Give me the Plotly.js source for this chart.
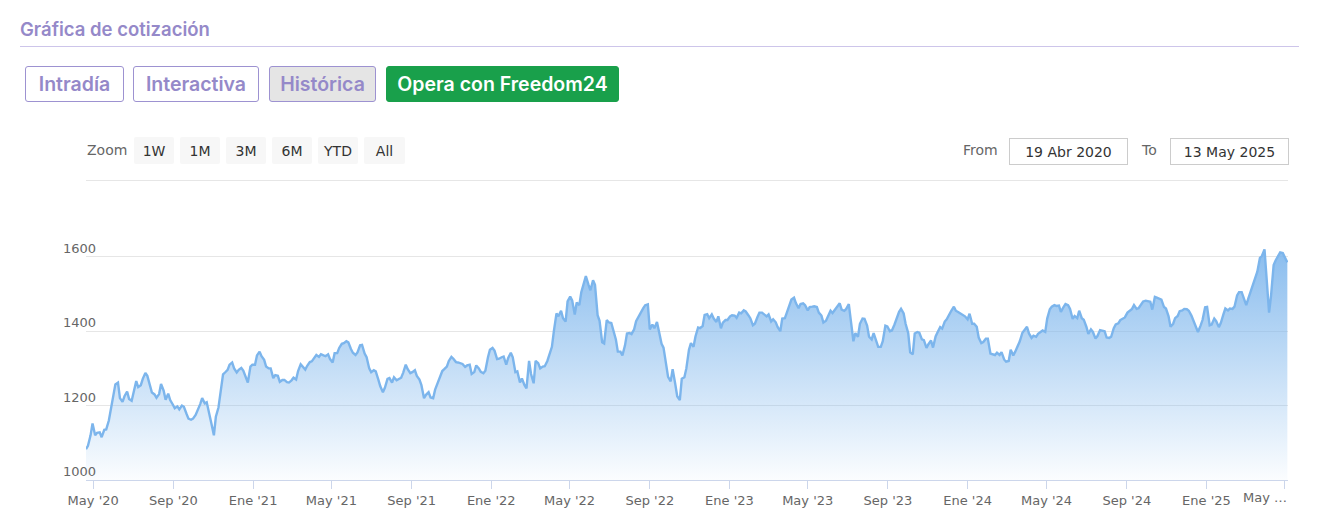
<!DOCTYPE html>
<html>
<head>
<meta charset="utf-8">
<script src="https://cdn.plot.ly/plotly-3.0.1.min.js"></script>
<style>
html,body{margin:0;padding:0;background:#fff;width:1322px;height:532px;overflow:hidden;}
#chart{position:absolute;left:0;top:0;width:1322px;height:532px;}
.ov{position:absolute;box-sizing:border-box;white-space:nowrap;}
.title{left:20px;top:18px;font-family:Inter,"Noto Sans",sans-serif;font-weight:600;font-size:18.5px;color:#9589c9;}
.sep{left:20px;top:46px;width:1279px;height:1px;background:#cdc5ea;}
.tab{top:66px;height:36px;font-family:Inter,"Noto Sans",sans-serif;font-weight:600;font-size:19.5px;color:#9589c9;border:1px solid #9d92d1;border-radius:3px;display:flex;align-items:center;justify-content:center;background:#fff;}
.rs{font-family:"DejaVu Sans",sans-serif;font-size:14px;}
.lbl{color:#666;top:142px;}
.zb{top:137px;height:27px;width:40px;background:#f7f7f7;color:#333;display:flex;align-items:center;justify-content:center;border-radius:2px;padding-top:1px;}
.inp{top:138px;height:27px;width:119px;border:1px solid #cccccc;color:#333;display:flex;align-items:center;justify-content:center;background:#fff;}
.sep2{left:86px;top:180px;width:1202px;height:1px;background:#e6e6e6;}
</style>
</head>
<body>
<div id="chart"></div>

<div class="ov title">Gráfica de cotización</div>
<div class="ov sep"></div>
<div class="ov tab" style="left:25px;width:99px;">Intradía</div>
<div class="ov tab" style="left:133px;width:126px;">Interactiva</div>
<div class="ov tab" style="left:269px;width:107px;background:#e5e5e5;">Histórica</div>
<div class="ov tab" style="left:386px;width:233px;background:#19a04b;border-color:#19a04b;color:#fff;">Opera con Freedom24</div>

<div class="ov rs lbl" style="left:87px;">Zoom</div>
<div class="ov rs zb" style="left:134px;">1W</div>
<div class="ov rs zb" style="left:180px;">1M</div>
<div class="ov rs zb" style="left:226px;">3M</div>
<div class="ov rs zb" style="left:272px;">6M</div>
<div class="ov rs zb" style="left:318px;">YTD</div>
<div class="ov rs zb" style="left:364px;width:41px;">All</div>
<div class="ov rs lbl" style="left:963px;">From</div>
<div class="ov rs inp" style="left:1009px;">19 Abr 2020</div>
<div class="ov rs lbl" style="left:1142px;">To</div>
<div class="ov rs inp" style="left:1170px;">13 May 2025</div>
<div class="ov sep2"></div>

<script>
// ---- data: Monday and Thursday closes ----
const mon2020 = ['2020-04-20','2020-04-27','2020-05-04','2020-05-11','2020-05-18','2020-05-25','2020-06-01','2020-06-08','2020-06-15','2020-06-22','2020-06-29','2020-07-06','2020-07-13','2020-07-20','2020-07-27','2020-08-03','2020-08-10','2020-08-17','2020-08-24','2020-08-31','2020-09-07','2020-09-14','2020-09-21','2020-09-28','2020-10-05','2020-10-12','2020-10-19','2020-10-26','2020-11-02','2020-11-09','2020-11-16','2020-11-23','2020-11-30','2020-12-07','2020-12-14','2020-12-21','2020-12-28'];
const monPrices2020 = [1083,1120,1120,1128,1135,1160,1225,1262,1210,1238,1213,1266,1255,1288,1252,1230,1231,1240,1232,1203,1198,1200,1178,1162,1175,1204,1206,1180,1120,1195,1284,1296,1316,1289,1301,1275,1305];
const thu2020 = ['2020-04-23','2020-04-30','2020-05-07','2020-05-14','2020-05-21','2020-05-28','2020-06-04','2020-06-11','2020-06-18','2020-06-25','2020-07-02','2020-07-09','2020-07-16','2020-07-23','2020-07-30','2020-08-06','2020-08-13','2020-08-20','2020-08-27','2020-09-03','2020-09-10','2020-09-17','2020-09-24','2020-10-01','2020-10-08','2020-10-15','2020-10-22','2020-10-29','2020-11-05','2020-11-12','2020-11-19','2020-11-26','2020-12-03','2020-12-10','2020-12-17','2020-12-24','2020-12-31'];
const thuPrices2020 = [1092,1152,1127,1115,1136,1188,1257,1220,1225,1218,1240,1250,1272,1280,1235,1221,1258,1216,1215,1193,1190,1197,1165,1165,1186,1220,1209,1153,1170,1240,1289,1310,1300,1296,1294,1262,1310];

const mon2021 = ['2021-01-04','2021-01-11','2021-01-18','2021-01-25','2021-02-01','2021-02-08','2021-02-15','2021-02-22','2021-03-01','2021-03-08','2021-03-15','2021-03-22','2021-03-29','2021-04-05','2021-04-12','2021-04-19','2021-04-26','2021-05-03','2021-05-10','2021-05-17','2021-05-24','2021-05-31','2021-06-07','2021-06-14','2021-06-21','2021-06-28','2021-07-05','2021-07-12','2021-07-19','2021-07-26','2021-08-02','2021-08-09','2021-08-16','2021-08-23','2021-08-30','2021-09-06','2021-09-13','2021-09-20','2021-09-27','2021-10-04','2021-10-11','2021-10-18','2021-10-25','2021-11-01','2021-11-08','2021-11-15','2021-11-22','2021-11-29','2021-12-06','2021-12-13','2021-12-20','2021-12-27'];
const monPrices2021 = [1310,1345,1323,1300,1274,1280,1269,1263,1268,1270,1311,1297,1317,1328,1331,1335,1338,1316,1341,1366,1373,1352,1336,1362,1340,1300,1295,1270,1236,1272,1262,1268,1275,1310,1287,1295,1270,1220,1236,1220,1261,1293,1305,1331,1317,1314,1304,1310,1290,1300,1287,1330];
const thu2021 = ['2021-01-07','2021-01-14','2021-01-21','2021-01-28','2021-02-04','2021-02-11','2021-02-18','2021-02-25','2021-03-04','2021-03-11','2021-03-18','2021-03-25','2021-04-01','2021-04-08','2021-04-15','2021-04-22','2021-04-29','2021-05-06','2021-05-13','2021-05-20','2021-05-27','2021-06-03','2021-06-10','2021-06-17','2021-06-24','2021-07-01','2021-07-08','2021-07-15','2021-07-22','2021-07-29','2021-08-05','2021-08-12','2021-08-19','2021-08-26','2021-09-02','2021-09-09','2021-09-16','2021-09-23','2021-09-30','2021-10-07','2021-10-14','2021-10-21','2021-10-28','2021-11-04','2021-11-11','2021-11-18','2021-11-25','2021-12-02','2021-12-09','2021-12-16','2021-12-23','2021-12-30'];
const thuPrices2021 = [1335,1333,1305,1300,1282,1264,1269,1262,1275,1293,1305,1307,1319,1336,1338,1333,1325,1341,1355,1368,1370,1342,1343,1363,1330,1290,1292,1252,1248,1274,1276,1271,1288,1298,1290,1280,1255,1229,1222,1243,1275,1298,1320,1326,1316,1312,1308,1285,1308,1291,1294,1350];

const mon2022 = ['2022-01-03','2022-01-10','2022-01-17','2022-01-24','2022-01-31','2022-02-07','2022-02-14','2022-02-21','2022-02-28','2022-03-07','2022-03-14','2022-03-21','2022-03-28','2022-04-04','2022-04-11','2022-04-18','2022-04-25','2022-05-02','2022-05-09','2022-05-16','2022-05-23','2022-05-30','2022-06-06','2022-06-13','2022-06-20','2022-06-27','2022-07-04','2022-07-11','2022-07-18','2022-07-25','2022-08-01','2022-08-08','2022-08-15','2022-08-22','2022-08-29','2022-09-05','2022-09-12','2022-09-19','2022-09-26','2022-10-03','2022-10-10','2022-10-17','2022-10-24','2022-10-31','2022-11-07','2022-11-14','2022-11-21','2022-11-28','2022-12-05','2022-12-12','2022-12-19','2022-12-26'];
const monPrices2022 = [1355,1325,1330,1310,1342,1290,1262,1255,1320,1260,1314,1305,1320,1358,1448,1455,1426,1493,1445,1470,1528,1525,1537,1443,1370,1430,1422,1378,1345,1362,1395,1405,1440,1462,1472,1418,1425,1366,1302,1265,1258,1215,1276,1350,1358,1410,1414,1446,1445,1425,1408,1430];
const thu2022 = ['2022-01-06','2022-01-13','2022-01-20','2022-01-27','2022-02-03','2022-02-10','2022-02-17','2022-02-24','2022-03-03','2022-03-10','2022-03-17','2022-03-24','2022-03-31','2022-04-07','2022-04-14','2022-04-21','2022-04-28','2022-05-05','2022-05-12','2022-05-19','2022-05-26','2022-06-02','2022-06-09','2022-06-16','2022-06-23','2022-06-30','2022-07-07','2022-07-14','2022-07-21','2022-07-28','2022-08-04','2022-08-11','2022-08-18','2022-08-25','2022-09-01','2022-09-08','2022-09-15','2022-09-22','2022-09-29','2022-10-06','2022-10-13','2022-10-20','2022-10-27','2022-11-03','2022-11-10','2022-11-17','2022-11-24','2022-12-01','2022-12-08','2022-12-15','2022-12-22','2022-12-29'];
const thuPrices2022 = [1348,1326,1332,1328,1330,1292,1273,1246,1285,1320,1300,1306,1338,1400,1440,1435,1480,1483,1477,1505,1548,1510,1525,1428,1367,1424,1400,1345,1335,1394,1392,1427,1453,1470,1405,1408,1400,1356,1277,1298,1225,1272,1300,1368,1386,1408,1444,1435,1434,1440,1423,1430];

const mon2023 = ['2023-01-02','2023-01-09','2023-01-16','2023-01-23','2023-01-30','2023-02-06','2023-02-13','2023-02-20','2023-02-27','2023-03-06','2023-03-13','2023-03-20','2023-03-27','2023-04-03','2023-04-10','2023-04-17','2023-04-24','2023-05-01','2023-05-08','2023-05-15','2023-05-22','2023-05-29','2023-06-05','2023-06-12','2023-06-19','2023-06-26','2023-07-03','2023-07-10','2023-07-17','2023-07-24','2023-07-31','2023-08-07','2023-08-14','2023-08-21','2023-08-28','2023-09-04','2023-09-11','2023-09-18','2023-09-25','2023-10-02','2023-10-09','2023-10-16','2023-10-23','2023-10-30','2023-11-06','2023-11-13','2023-11-20','2023-11-27','2023-12-04','2023-12-11','2023-12-18','2023-12-25'];
const monPrices2023 = [1440,1442,1450,1456,1443,1416,1438,1450,1440,1426,1424,1400,1435,1472,1490,1462,1475,1456,1466,1465,1442,1428,1455,1458,1475,1455,1473,1373,1385,1434,1415,1378,1374,1358,1415,1400,1418,1452,1448,1395,1338,1398,1378,1355,1375,1386,1411,1426,1448,1466,1451,1444];
const thu2023 = ['2023-01-05','2023-01-12','2023-01-19','2023-01-26','2023-02-02','2023-02-09','2023-02-16','2023-02-23','2023-03-02','2023-03-09','2023-03-16','2023-03-23','2023-03-30','2023-04-06','2023-04-13','2023-04-20','2023-04-27','2023-05-04','2023-05-11','2023-05-18','2023-05-25','2023-06-01','2023-06-08','2023-06-15','2023-06-22','2023-06-29','2023-07-06','2023-07-13','2023-07-20','2023-07-27','2023-08-03','2023-08-10','2023-08-17','2023-08-24','2023-08-31','2023-09-07','2023-09-14','2023-09-21','2023-09-28','2023-10-05','2023-10-12','2023-10-19','2023-10-26','2023-11-02','2023-11-09','2023-11-16','2023-11-23','2023-11-30','2023-12-07','2023-12-14','2023-12-21','2023-12-28'];
const thuPrices2023 = [1443,1436,1448,1453,1435,1420,1450,1445,1445,1432,1411,1434,1450,1485,1475,1473,1470,1465,1467,1450,1423,1438,1449,1466,1458,1460,1430,1395,1420,1433,1385,1395,1358,1373,1413,1402,1433,1460,1420,1343,1394,1396,1376,1365,1356,1397,1407,1432,1455,1455,1448,1440];

const mon2024 = ['2024-01-01','2024-01-08','2024-01-15','2024-01-22','2024-01-29','2024-02-05','2024-02-12','2024-02-19','2024-02-26','2024-03-04','2024-03-11','2024-03-18','2024-03-25','2024-04-01','2024-04-08','2024-04-15','2024-04-22','2024-04-29','2024-05-06','2024-05-13','2024-05-20','2024-05-27','2024-06-03','2024-06-10','2024-06-17','2024-06-24','2024-07-01','2024-07-08','2024-07-15','2024-07-22','2024-07-29','2024-08-05','2024-08-12','2024-08-19','2024-08-26','2024-09-02','2024-09-09','2024-09-16','2024-09-23','2024-09-30','2024-10-07','2024-10-14','2024-10-21','2024-10-28','2024-11-04','2024-11-11','2024-11-18','2024-11-25','2024-12-02','2024-12-09','2024-12-16','2024-12-23','2024-12-30'];
const monPrices2024 = [1432,1420,1412,1368,1380,1340,1336,1336,1324,1320,1335,1362,1396,1412,1382,1385,1398,1398,1459,1470,1469,1465,1470,1433,1435,1435,1412,1405,1380,1403,1400,1382,1408,1421,1435,1450,1460,1460,1473,1482,1479,1492,1486,1465,1440,1420,1441,1456,1459,1442,1412,1415,1464];
const thu2024 = ['2024-01-04','2024-01-11','2024-01-18','2024-01-25','2024-02-01','2024-02-08','2024-02-15','2024-02-22','2024-02-29','2024-03-07','2024-03-14','2024-03-21','2024-03-28','2024-04-04','2024-04-11','2024-04-18','2024-04-25','2024-05-02','2024-05-09','2024-05-16','2024-05-23','2024-05-30','2024-06-06','2024-06-13','2024-06-20','2024-06-27','2024-07-04','2024-07-11','2024-07-18','2024-07-25','2024-08-01','2024-08-08','2024-08-15','2024-08-22','2024-08-29','2024-09-05','2024-09-12','2024-09-19','2024-09-26','2024-10-03','2024-10-10','2024-10-17','2024-10-24','2024-10-31','2024-11-07','2024-11-14','2024-11-21','2024-11-28','2024-12-05','2024-12-12','2024-12-19','2024-12-26','2025-01-02'];
const thuPrices2024 = [1447,1420,1383,1371,1380,1338,1342,1344,1318,1350,1345,1373,1402,1394,1388,1393,1402,1434,1466,1468,1452,1473,1460,1441,1455,1431,1393,1398,1387,1401,1383,1385,1418,1430,1437,1455,1470,1462,1480,1480,1458,1490,1485,1461,1412,1435,1454,1460,1455,1430,1398,1430,1465];

const mon2025 = ['2025-01-06','2025-01-13','2025-01-20','2025-01-27','2025-02-03','2025-02-10','2025-02-17','2025-02-24','2025-03-03','2025-03-10','2025-03-17','2025-03-24','2025-03-31','2025-04-07','2025-04-14','2025-04-21','2025-04-28','2025-05-05'];
const monPrices2025 = [1416,1434,1411,1445,1456,1460,1496,1505,1470,1509,1542,1597,1620,1450,1578,1605,1610,1585];
const thu2025 = ['2025-01-09','2025-01-16','2025-01-23','2025-01-30','2025-02-06','2025-02-13','2025-02-20','2025-02-27','2025-03-06','2025-03-13','2025-03-20','2025-03-27','2025-04-03','2025-04-10','2025-04-17','2025-04-24','2025-05-01'];
const thuPrices2025 = [1418,1427,1422,1461,1461,1466,1505,1490,1487,1520,1560,1602,1550,1495,1590,1612,1598];

const xTickVals = ['2020-05-01','2020-09-01','2021-01-01','2021-05-01','2021-09-01','2022-01-01','2022-05-01','2022-09-01','2023-01-01','2023-05-01','2023-09-01','2024-01-01','2024-05-01','2024-09-01','2025-01-01','2025-05-01'];
const xTickText = ["May '20","Sep '20","Ene '21","May '21","Sep '21","Ene '22","May '22","Sep '22","Ene '23","May '23","Sep '23","Ene '24","May '24","Sep '24","Ene '25",""];
const lastTickText = "May …";
const yTickVals = [1000,1200,1400,1600];

// ---- build the single series (merge Monday + Thursday readings in date order) ----
const pairs = [];
[[mon2020,monPrices2020],[thu2020,thuPrices2020],[mon2021,monPrices2021],[thu2021,thuPrices2021],
 [mon2022,monPrices2022],[thu2022,thuPrices2022],[mon2023,monPrices2023],[thu2023,thuPrices2023],
 [mon2024,monPrices2024],[thu2024,thuPrices2024],[mon2025,monPrices2025],[thu2025,thuPrices2025]]
 .forEach(([d,p]) => d.forEach((v,i) => { if (p[i] !== undefined) pairs.push([v,p[i]]); }));
pairs.sort((a,b) => a[0] < b[0] ? -1 : a[0] > b[0] ? 1 : 0);
const dates = pairs.map(p => p[0]);
const prices = pairs.map(p => p[1]);

const axisFont = {family:'"DejaVu Sans", Verdana, sans-serif', size:13, color:'#666666'};
const plotW = 1322 - 86 - 34;

const trace = {
  x: dates, y: prices, type:'scatter', mode:'lines',
  line:{color:'#7cb5ec', width:2.4},
  fill:'tozeroy',
  fillgradient:{type:'vertical', start:1000, stop:1625,
    colorscale:[[0,'rgba(124,181,236,0.03)'],[1,'rgba(124,181,236,0.9)']]},
  hoverinfo:'skip', showlegend:false
};

const annotations = yTickVals.map(v => ({
  xref:'paper', yref:'y', x:-24/plotW, y:v, xanchor:'left', yanchor:'bottom',
  text:String(v), showarrow:false, font:axisFont, borderpad:0
}));
annotations.push({xref:'paper', yref:'paper', x:1, y:0, xanchor:'right', yanchor:'top',
  yshift:-9, text:lastTickText, showarrow:false, font:axisFont, borderpad:0});

const layout = {
  width:1322, height:532,
  margin:{l:86, r:34, t:190, b:52, pad:0},
  paper_bgcolor:'rgba(0,0,0,0)', plot_bgcolor:'rgba(0,0,0,0)',
  xaxis:{type:'date', range:['2020-04-20','2025-05-06'], tickmode:'array',
    tickvals:xTickVals, ticktext:xTickText, ticks:'outside', ticklen:8, tickwidth:1,
    tickcolor:'#ccd6eb', showline:true, linecolor:'#ccd6eb', linewidth:1,
    showgrid:false, zeroline:false, tickfont:axisFont, fixedrange:true},
  yaxis:{range:[1000,1779.6], tickmode:'array', tickvals:yTickVals, showticklabels:false,
    ticks:'', showgrid:true, gridcolor:'#e6e6e6', gridwidth:1, zeroline:false,
    showline:false, fixedrange:true},
  annotations: annotations,
  showlegend:false
};

Plotly.newPlot('chart', [trace], layout, {displayModeBar:false, staticPlot:true});
</script>
</body>
</html>
